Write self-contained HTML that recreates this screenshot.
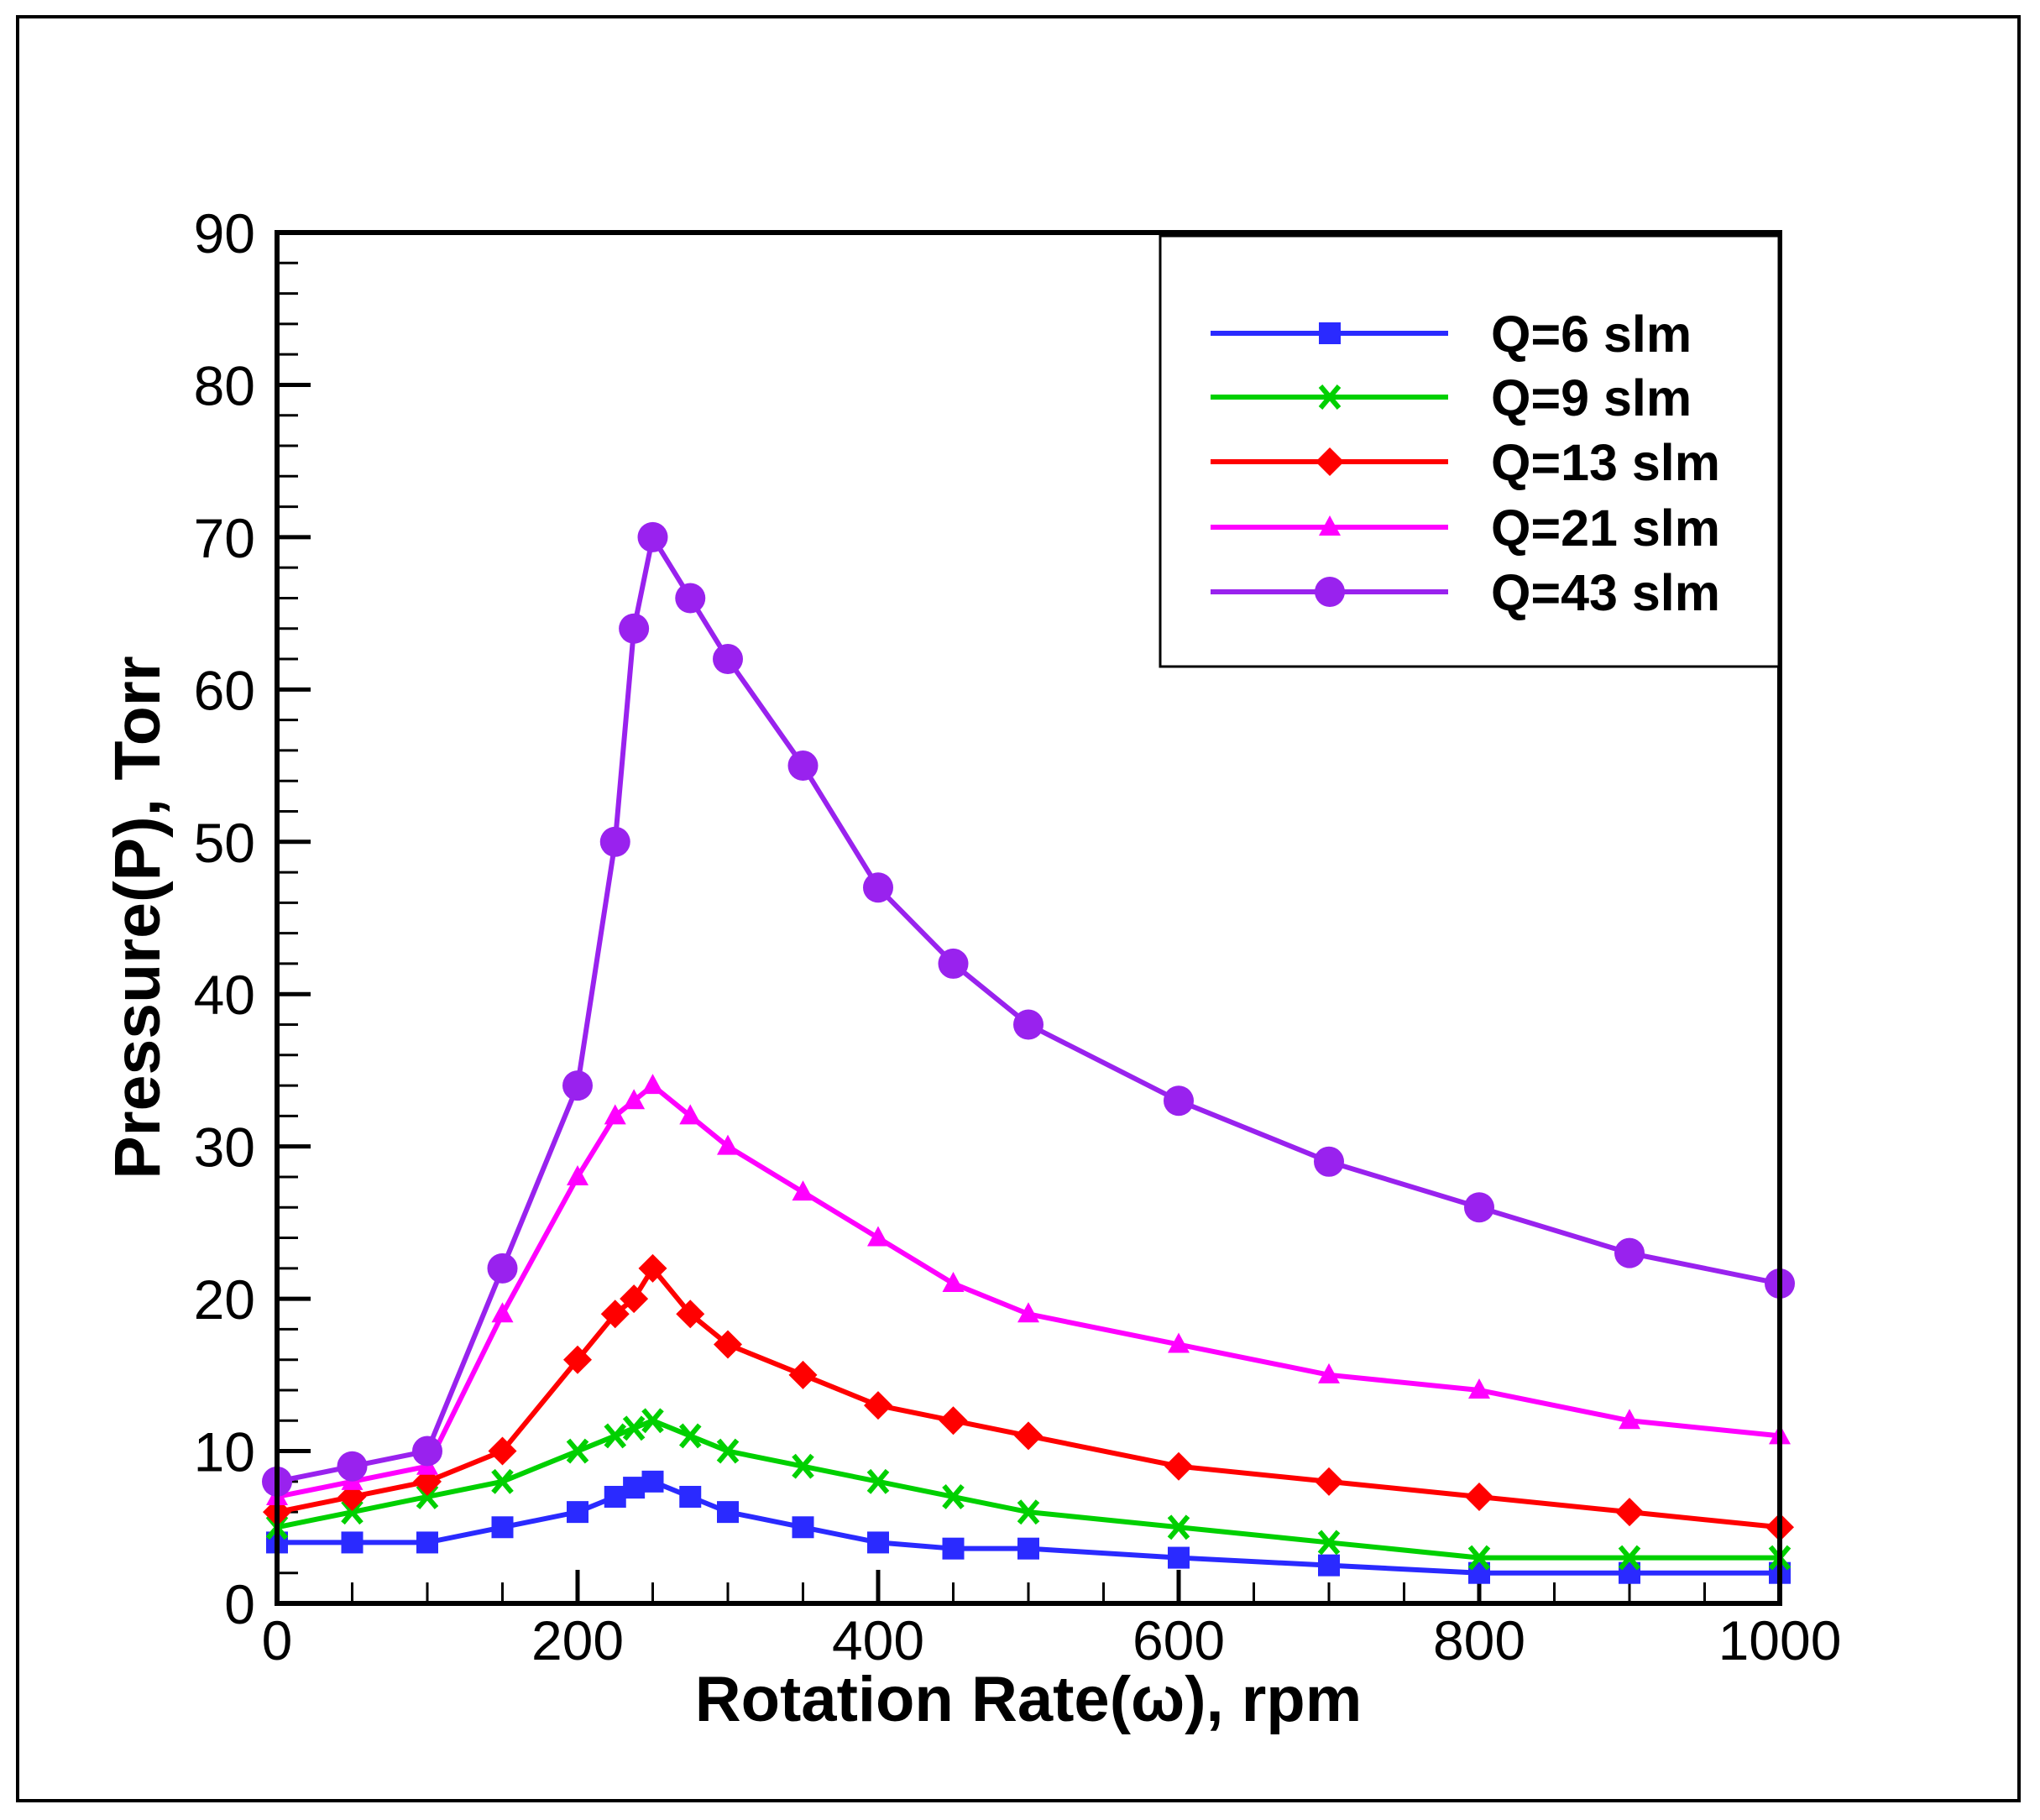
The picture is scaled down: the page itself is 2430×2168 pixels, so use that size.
<!DOCTYPE html>
<html><head><meta charset="utf-8"><style>
html,body{margin:0;padding:0;background:#fff;}
svg{display:block;}
text{font-family:"Liberation Sans",Arial,sans-serif;}
</style></head><body>
<svg id="s" width="2430" height="2168" viewBox="0 0 2430 2168" xmlns="http://www.w3.org/2000/svg">
<rect x="0" y="0" width="2430" height="2168" fill="#fff"/>
<rect x="21" y="20" width="2384" height="2125" fill="none" stroke="#000" stroke-width="4"/>
<g id="g"></g>
</svg>
<script>
const g=document.getElementById('g');
const L=330,R=2120,T=277,B=1910;
const X=v=>L+v*(R-L)/1000, Y=v=>B-v*(B-T)/90;
let h='';
for(let v=0;v<=90;v+=2){const maj=v%10==0;const y=Y(v);h+=`<line x1="${L}" y1="${y}" x2="${L+(maj?40:25)}" y2="${y}" stroke="#000" stroke-width="${maj?5:3}"/>`;
 if(maj)h+=`<text x="304" y="${y+24}" font-size="66" text-anchor="end">${v}</text>`;}
for(let v=0;v<=1000;v+=50){const maj=v%200==0;const x=X(v);h+=`<line x1="${x}" y1="${B}" x2="${x}" y2="${B-(maj?40:25)}" stroke="#000" stroke-width="${maj?5:3}"/>`;
 if(maj)h+=`<text x="${x}" y="1977" font-size="66" text-anchor="middle">${v}</text>`;}
const xs=[0,50,100,150,200,225,237.5,250,275,300,350,400,450,500,600,700,800,900,1000];
const S=[
['#2a2aff','sq',[4,4,4,5,6,7,7.6,8,7,6,5,4,3.6,3.6,3,2.5,2,2,2]],
['#00d000','x',[5,6,7,8,10,11,11.5,12,11,10,9,8,7,6,5,4,3,3,3]],
['#ff0000','di',[6,7,8,10,16,19,20,22,19,17,15,13,12,11,9,8,7,6,5]],
['#ff00ff','tr',[7,8,9,19,28,32,33,34,32,30,27,24,21,19,17,15,14,12,11]],
['#9922ee','ci',[8,9,10,22,34,50,64,70,66,62,55,47,42,38,33,29,26,23,21]]];
function mk(t,c,x,y){
 if(t=='sq')return `<rect x="${x-13}" y="${y-13}" width="26" height="26" fill="${c}"/>`;
 if(t=='x')return `<path d="M${x-11} ${y-13}L${x+11} ${y+13}M${x+11} ${y-13}L${x-11} ${y+13}" stroke="${c}" stroke-width="6"/>`;
 if(t=='di')return `<polygon points="${x},${y-17} ${x+17},${y} ${x},${y+17} ${x-17},${y}" fill="${c}"/>`;
 if(t=='tr')return `<polygon points="${x},${y-14} ${x+13},${y+10} ${x-13},${y+10}" fill="${c}"/>`;
 return `<circle cx="${x}" cy="${y}" r="18" fill="${c}"/>`;
}
for(const [c,t,d] of S){
 h+=`<polyline fill="none" stroke="${c}" stroke-width="6" points="${xs.map((v,i)=>X(v)+','+Y(d[i])).join(' ')}"/>`;
 xs.forEach((v,i)=>h+=mk(t,c,X(v),Y(d[i])));
}
h+=`<path d="M${L} ${T}H${R}V${B}H${L}Z" fill="none" stroke="#000" stroke-width="6"/>`;
h+=`<rect x="1382" y="281" width="737" height="513" fill="#fff" stroke="#000" stroke-width="3"/>`;
const labs=['Q=6 slm','Q=9 slm','Q=13 slm','Q=21 slm','Q=43 slm'],ly=[397,473,550,628,705];
S.forEach(([c,t],i)=>{h+=`<line x1="1442" y1="${ly[i]}" x2="1725" y2="${ly[i]}" stroke="${c}" stroke-width="6"/>`+mk(t,c,1584,ly[i])+
 `<text x="1776" y="${ly[i]+22}" font-size="61" font-weight="bold">${labs[i]}</text>`;});
h+=`<text x="1225" y="2050" font-size="76" font-weight="bold" text-anchor="middle">Rotation Rate(ω), rpm</text>`;
h+=`<text transform="translate(190,1093) rotate(-90)" font-size="77" font-weight="bold" text-anchor="middle">Pressure(P), Torr</text>`;
g.innerHTML=h;
</script>
</body></html>
